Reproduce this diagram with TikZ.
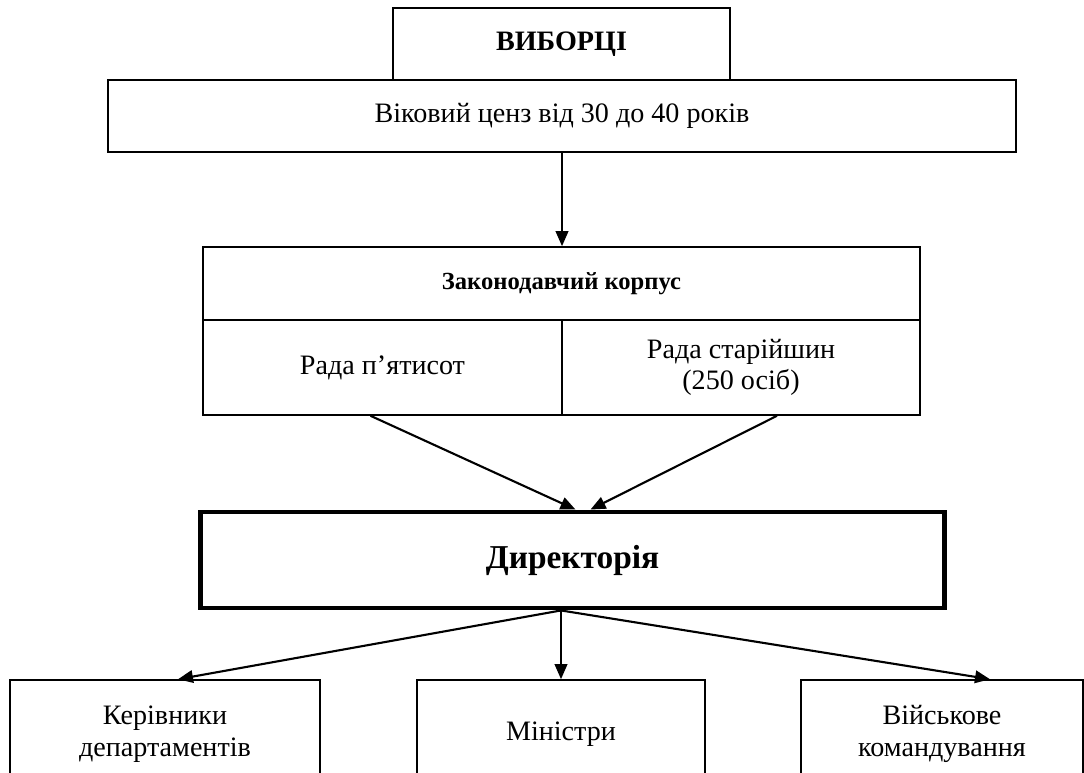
\documentclass[tikz,border=0pt]{standalone}
\usepackage{fontspec}
\setmainfont{Liberation Serif}
\usetikzlibrary{calc,arrows.meta}

\begin{document}
\begin{tikzpicture}[
  x=0.02cm, y=-0.02cm,
  box/.style={
    draw, line width=0.9pt, inner sep=0pt,
    align=center, font=\fontsize{16}{18}\selectfont
  },
  headbox/.style={box, font=\fontsize{16}{18}\selectfont\bfseries},
  titlebox/.style={box, font=\fontsize{14}{16}\selectfont\bfseries},
  mainbox/.style={box, line width=2.8pt, font=\fontsize{19}{22}\selectfont\bfseries},
  arr/.style={-{Triangle[length=3mm,width=2.5mm]}, line width=1.2pt},
]
\clip (0,0) rectangle (1084,773);

%% --- Voters ---------------------------------------------------------
\node[headbox, minimum width=6.74cm, minimum height=1.44cm] (vyb) at (561.5,44) {ВИБОРЦІ};
\node[box, minimum width=18.16cm, minimum height=1.44cm] (cenz) at (562,116) {Віковий ценз від 30 до 40 років};

%% --- Legislative corps ----------------------------------------------
\node[titlebox, minimum width=14.34cm, minimum height=1.46cm] (zak) at (561.5,283.5) {Законодавчий корпус};
\node[box, minimum width=7.18cm, minimum height=1.9cm] (p500)  at (382.5,367.5) {Рада п’ятисот};
\node[box, minimum width=7.16cm, minimum height=1.9cm] (stari) at (741,367.5)   {Рада старійшин\\(250 осіб)};

\draw[arr] (cenz.south) -- (cenz.south |- zak.north);

%% --- Directory ------------------------------------------------------
\node[mainbox, minimum width=14.9cm, minimum height=1.92cm] (dir) at (572.5,560) {Директорія};

\draw[arr] ($(p500.south)+(-12,0)$) -- ($(dir.north)+(3,0)$);
\draw[arr] ($(stari.south)+(36,0)$) -- ($(dir.north)+(18,0)$);

%% --- Executive bodies (cut at the lower edge) -----------------------
\node[box, minimum width=6.2cm,  minimum height=2.16cm] (kerivn) at (165,734) {Керівники\\департаментів};
\node[box, minimum width=5.76cm, minimum height=2.16cm] (min)    at (561,734) {Міністри};
\node[box, minimum width=5.64cm, minimum height=2.16cm] (viisk)  at (942,734) {Військове\\командування};

\draw[arr] (dir.south -| min.north) -- ($(kerivn.north)+(13,0)$);
\draw[arr] (dir.south -| min.north) -- (min.north);
\draw[arr] (dir.south -| min.north) -- ($(viisk.north)+(48,0)$);

\end{tikzpicture}
\end{document}
